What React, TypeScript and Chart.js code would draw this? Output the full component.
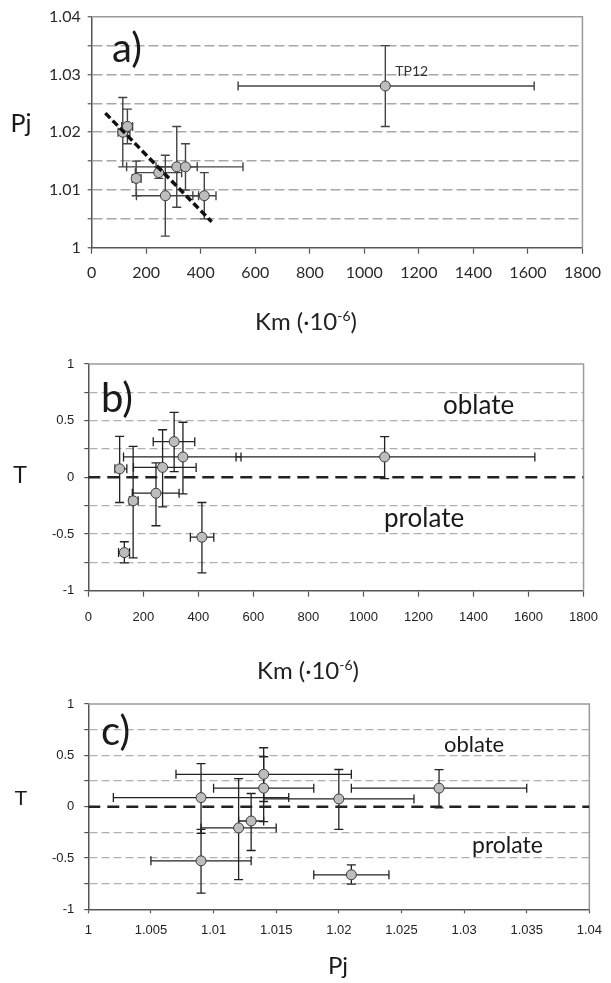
import React, { useEffect, useRef } from "react";
import { Chart, registerables } from "chart.js";

Chart.register(...registerables);

// ---------- data ----------
const sampleNames = ["", "", "", "", "", "", "", "", "TP12"];
const sampleKm = [114, 131, 163, 246, 270, 312, 344, 413, 1077];
const sampleKmLow = [97, 110, 149, 160, 164, 236, 128, 371, 537];
const sampleKmHigh = [140, 150, 181, 330, 392, 387, 555, 456, 1623];
const samplePj = [1.02, 1.021, 1.012, 1.013, 1.009, 1.014, 1.014, 1.009, 1.028];
const samplePjLow = [1.014, 1.018, 1.009, 1.012, 1.002, 1.007, 1.01, 1.005, 1.021];
const samplePjHigh = [1.026, 1.024, 1.015, 1.014, 1.016, 1.021, 1.018, 1.013, 1.035];
const sampleT = [0.075, -0.664, -0.207, -0.14, 0.088, 0.315, 0.18, -0.528, 0.18];
const sampleTLow = [-0.222, -0.755, -0.71, -0.427, -0.26, 0.05, -0.145, -0.843, -0.012];
const sampleTHigh = [0.362, -0.568, 0.273, 0.128, 0.42, 0.574, 0.486, -0.222, 0.36];

const trendKm = [50, 440];
const trendPj = [1.0233, 1.0045];

const kmRange = [0, 1800];
const kmStep = 200;
const pjRange = [1, 1.04];
const pjStep = 0.005;
const tRange = [-1, 1];
const tStep = 0.25;
const zeroLineT = [0, 0];

// ---------- plugins ----------
const errorBarPlugin = {
  id: "errorBars",
  beforeDatasetsDraw(chart: any, _a: any, o: any) {
    if (!o || !o.x) return;
    const { ctx } = chart;
    const sx = chart.scales.x;
    const sy = chart.scales.y;
    ctx.save();
    ctx.strokeStyle = o.color;
    ctx.lineWidth = o.width;
    const c = o.cap;
    for (let i = 0; i < o.x.length; i++) {
      const px = sx.getPixelForValue(o.x[i]);
      const py = sy.getPixelForValue(o.y[i]);
      const xl = sx.getPixelForValue(o.xLow[i]);
      const xh = sx.getPixelForValue(o.xHigh[i]);
      const yl = sy.getPixelForValue(o.yLow[i]);
      const yh = sy.getPixelForValue(o.yHigh[i]);
      ctx.beginPath();
      ctx.moveTo(xl, py); ctx.lineTo(xh, py);
      ctx.moveTo(xl, py - c); ctx.lineTo(xl, py + c);
      ctx.moveTo(xh, py - c); ctx.lineTo(xh, py + c);
      ctx.moveTo(px, yl); ctx.lineTo(px, yh);
      ctx.moveTo(px - c, yl); ctx.lineTo(px + c, yl);
      ctx.moveTo(px - c, yh); ctx.lineTo(px + c, yh);
      ctx.stroke();
    }
    ctx.restore();
  },
};

const framePlugin = {
  id: "frame",
  beforeDatasetsDraw(chart: any, _a: any, o: any) {
    const { ctx, chartArea: a } = chart;
    ctx.save();
    ctx.strokeStyle = (o && o.color) || "#999";
    ctx.lineWidth = (o && o.width) || 1.5;
    ctx.beginPath();
    ctx.moveTo(a.left, a.top);
    ctx.lineTo(a.right, a.top);
    ctx.lineTo(a.right, a.bottom);
    ctx.stroke();
    ctx.restore();
  },
};

const textPlugin = {
  id: "texts",
  afterDraw(chart: any, _a: any, o: any) {
    if (!o || !o.items) return;
    const { ctx } = chart;
    ctx.save();
    ctx.textBaseline = "alphabetic";
    for (const it of o.items) {
      ctx.fillStyle = it.color || "#222";
      let x = it.x;
      let y = it.y;
      if (it.point) {
        const meta = chart.getDatasetMeta(it.point.dataset);
        const el = meta.data[it.point.index];
        x = el.x + it.dx;
        y = el.y + it.dy;
      }
      if (it.runs) {
        let total = 0;
        for (const r of it.runs) {
          ctx.font = r.font;
          total += ctx.measureText(r.text).width;
        }
        let cx = x - total / 2;
        ctx.textAlign = "left";
        for (const r of it.runs) {
          ctx.font = r.font;
          ctx.fillText(r.text, cx, y + (r.dy || 0));
          cx += ctx.measureText(r.text).width;
        }
      } else {
        ctx.font = it.font;
        ctx.textAlign = it.align || "left";
        ctx.fillText(it.text, x, y);
      }
    }
    ctx.restore();
  },
};

const near = (a: number, b: number) => Math.abs(a - b) < 1e-9;

function kmLabel(x: number, y: number) {
  return {
    x,
    y,
    runs: [
      { text: "Km (·10", font: "400 24px Lato" },
      { text: "-6", font: "400 14px Lato", dy: -9 },
      { text: ")", font: "400 24px Lato" },
    ],
  };
}

function pointStyle() {
  return {
    pointRadius: 5,
    pointBackgroundColor: "#bdbdbd",
    pointBorderColor: "#3a3a3a",
    pointBorderWidth: 1,
    showLine: false,
  };
}

function baseOptions(padding: any, plugins: any, scales: any) {
  return {
    responsive: false,
    animation: false,
    events: [],
    layout: { padding },
    plugins: {
      legend: { display: false },
      tooltip: { enabled: false },
      ...plugins,
    },
    scales,
  };
}

function tAxis(labelPad: number, width: number) {
  return {
    type: "linear",
    min: tRange[0],
    max: tRange[1],
    ticks: {
      stepSize: tStep,
      padding: labelPad,
      color: "#222",
      font: { family: "Liberation Sans", size: 13 },
      callback: (v: any, i: number) => (i % 2 === 0 ? String(Number(Number(v).toFixed(2))) : ""),
    },
    grid: {
      color: (c: any) =>
        c.tick && (near(c.tick.value, tRange[1]) || near(c.tick.value, tRange[0]) || near(c.tick.value, 0))
          ? "rgba(0,0,0,0)"
          : "#b0b0b0",
      lineWidth: 1.2,
      tickLength: 4,
      tickColor: "#555",
      tickWidth: 1.2,
    },
    border: { color: "#555", width: 1.5, dash: [8, 4] },
    afterFit: (s: any) => {
      s.width = width;
    },
  };
}

const plainNumber = (v: any) => String(Number(Number(v).toFixed(3)));

export default function App() {
  const refA = useRef<HTMLCanvasElement>(null);
  const refB = useRef<HTMLCanvasElement>(null);
  const refC = useRef<HTMLCanvasElement>(null);

  useEffect(() => {
    const charts: Chart[] = [];

    // ---------- panel a ----------
    charts.push(
      new Chart(refA.current as HTMLCanvasElement, {
        type: "scatter",
        data: {
          datasets: [
            {
              type: "line",
              data: trendKm.map((k, i) => ({ x: k, y: trendPj[i] })),
              borderColor: "#111",
              borderWidth: 3.5,
              borderDash: [7, 3.5],
              pointRadius: 0,
              fill: false,
              order: 0,
            } as any,
            {
              data: sampleKm.map((k, i) => ({ x: k, y: samplePj[i] })),
              ...pointStyle(),
              order: 1,
            },
          ],
        },
        options: baseOptions(
          { top: 16.7, right: 21, left: 0, bottom: 0 },
          {
            errorBars: {
              x: sampleKm, y: samplePj,
              xLow: sampleKmLow, xHigh: sampleKmHigh,
              yLow: samplePjLow, yHigh: samplePjHigh,
              color: "#444", width: 1.4, cap: 4.5,
            },
            frame: { color: "#9a9a9a", width: 1.5 },
            texts: {
              items: [
                { text: "a)", x: 112, y: 62, font: "400 40px Lato", color: "#1a1a1a" },
                { text: "Pj", x: 21, y: 132, font: "400 25px Lato", align: "center", color: "#1a1a1a" },
                { text: sampleNames[8], point: { dataset: 1, index: 8 }, dx: 10, dy: -10, font: "400 14px Lato", color: "#333" },
                kmLabel(306, 330),
              ],
            },
          },
          {
            x: {
              type: "linear",
              min: kmRange[0],
              max: kmRange[1],
              ticks: { stepSize: kmStep, padding: 10, color: "#2a2a2a", font: { family: "Lato", size: 16 }, maxRotation: 0, callback: plainNumber },
              grid: { drawOnChartArea: false, tickLength: 6, tickColor: "#555", tickWidth: 1.2 },
              border: { color: "#555", width: 1.5 },
              afterFit: (s: any) => { s.height = 92.3; },
            },
            y: {
              type: "linear",
              min: pjRange[0],
              max: pjRange[1],
              ticks: {
                stepSize: pjStep,
                padding: 7,
                color: "#2a2a2a",
                font: { family: "Lato", size: 16 },
                callback: (v: any, i: number) => (i % 2 === 0 ? String(Number(Number(v).toFixed(2))) : ""),
              },
              grid: {
                color: (c: any) =>
                  c.tick && (near(c.tick.value, pjRange[1]) || near(c.tick.value, pjRange[0])) ? "rgba(0,0,0,0)" : "#a8a8a8",
                lineWidth: 1.5,
                tickLength: 4,
                tickColor: "#555",
                tickWidth: 1.2,
              },
              border: { color: "#555", width: 1.5, dash: [10, 4] },
              afterFit: (s: any) => { s.width = 91.7; },
            },
          }
        ) as any,
        plugins: [errorBarPlugin, framePlugin, textPlugin],
      })
    );

    // ---------- panel b ----------
    charts.push(
      new Chart(refB.current as HTMLCanvasElement, {
        type: "scatter",
        data: {
          datasets: [
            {
              data: sampleKm.map((k, i) => ({ x: k, y: sampleT[i] })),
              ...pointStyle(),
              order: 0,
            },
            {
              type: "line",
              data: kmRange.map((k, i) => ({ x: k, y: zeroLineT[i] })),
              borderColor: "#222",
              borderWidth: 2.5,
              borderDash: [12, 7],
              pointRadius: 0,
              fill: false,
              order: 1,
            } as any,
          ],
        },
        options: baseOptions(
          { top: 24, right: 17.7, left: 0, bottom: 0 },
          {
            errorBars: {
              x: sampleKm, y: sampleT,
              xLow: sampleKmLow, xHigh: sampleKmHigh,
              yLow: sampleTLow, yHigh: sampleTHigh,
              color: "#222", width: 1.3, cap: 4.5,
            },
            frame: { color: "#9a9a9a", width: 1.5 },
            texts: {
              items: [
                { text: "b)", x: 101, y: 72, font: "400 40px Lato", color: "#1a1a1a" },
                { text: "T", x: 20, y: 143, font: "400 23px Liberation Sans", align: "center", color: "#1a1a1a" },
                { text: "oblate", x: 443, y: 74, font: "400 26px Lato", color: "#1a1a1a" },
                { text: "prolate", x: 384, y: 187, font: "400 26px Lato", color: "#1a1a1a" },
                kmLabel(308, 339),
              ],
            },
          },
          {
            x: {
              type: "linear",
              min: kmRange[0],
              max: kmRange[1],
              ticks: { stepSize: kmStep, padding: 13, color: "#222", font: { family: "Liberation Sans", size: 13 }, maxRotation: 0, callback: plainNumber },
              grid: { drawOnChartArea: false, tickLength: 6, tickColor: "#555", tickWidth: 1.2 },
              border: { color: "#555", width: 1.5 },
              afterFit: (s: any) => { s.height = 94.3; },
            },
            y: tAxis(10, 88.3),
          }
        ) as any,
        plugins: [errorBarPlugin, framePlugin, textPlugin],
      })
    );

    // ---------- panel c ----------
    charts.push(
      new Chart(refC.current as HTMLCanvasElement, {
        type: "scatter",
        data: {
          datasets: [
            {
              data: samplePj.map((p, i) => ({ x: p, y: sampleT[i] })),
              ...pointStyle(),
              order: 0,
            },
            {
              type: "line",
              data: pjRange.map((p, i) => ({ x: p, y: zeroLineT[i] })),
              borderColor: "#222",
              borderWidth: 2.5,
              borderDash: [12, 7],
              pointRadius: 0,
              fill: false,
              order: 1,
            } as any,
          ],
        },
        options: baseOptions(
          { top: 19, right: 18.3, left: 0, bottom: 0 },
          {
            errorBars: {
              x: samplePj, y: sampleT,
              xLow: samplePjLow, xHigh: samplePjHigh,
              yLow: sampleTLow, yHigh: sampleTHigh,
              color: "#222", width: 1.3, cap: 4.5,
            },
            frame: { color: "#9a9a9a", width: 1.5 },
            texts: {
              items: [
                { text: "c)", x: 101, y: 60, font: "400 40px Lato", color: "#1a1a1a" },
                { text: "T", x: 21, y: 120, font: "400 21px Liberation Sans", align: "center", color: "#1a1a1a" },
                { text: "oblate", x: 444, y: 67, font: "400 22px Lato", color: "#1a1a1a" },
                { text: "prolate", x: 472, y: 168, font: "400 23px Lato", color: "#1a1a1a" },
                { text: "Pj", x: 338, y: 289, font: "400 24px Lato", align: "center", color: "#1a1a1a" },
              ],
            },
          },
          {
            x: {
              type: "linear",
              min: pjRange[0],
              max: pjRange[1],
              ticks: {
                stepSize: pjStep,
                padding: 9,
                color: "#222",
                font: { family: "Liberation Sans", size: 13 },
                maxRotation: 0,
                autoSkip: false,
                callback: plainNumber,
              },
              grid: { drawOnChartArea: false, tickLength: 4, tickColor: "#555", tickWidth: 1.2 },
              border: { color: "#555", width: 1.5 },
              afterFit: (s: any) => { s.height = 73.7; },
            },
            y: tAxis(10, 88.3),
          }
        ) as any,
        plugins: [errorBarPlugin, framePlugin, textPlugin],
      })
    );

    return () => {
      charts.forEach((c) => c.destroy());
    };
  }, []);

  const canvasStyle = (top: number, h: number): React.CSSProperties => ({
    position: "absolute",
    left: 0,
    top,
    width: 611,
    height: h,
    display: "block",
  });

  return (
    <div style={{ position: "absolute", left: 0, top: 0, width: 611, height: 983, background: "#fff", overflow: "hidden" }}>
      <canvas ref={refA} width={611} height={340} style={canvasStyle(0, 340)} />
      <canvas ref={refB} width={611} height={345} style={canvasStyle(340, 345)} />
      <canvas ref={refC} width={611} height={298} style={canvasStyle(685, 298)} />
    </div>
  );
}
